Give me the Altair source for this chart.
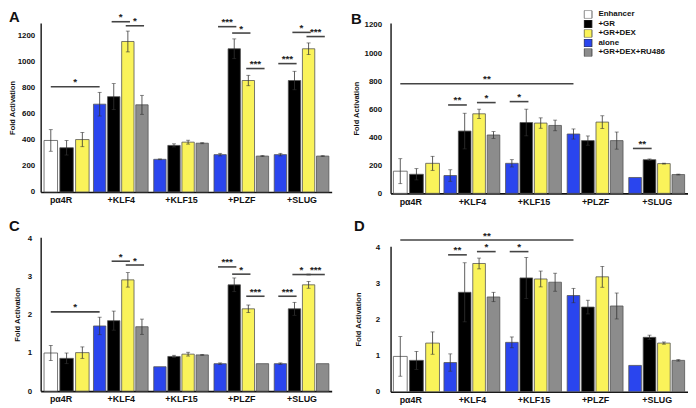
import json
import altair as alt
import pandas as pd

FONT = "Liberation Sans"

# ---------------- data ----------------
GROUPS = ["pα4R", "+KLF4", "+KLF15", "+PLZF", "+SLUG"]
SERIES = ["Enhancer", "+GR", "+GR+DEX", "alone", "+GR+DEX+RU486"]
SERIES_COLORS = ["#FFFFFF", "#000000", "#FAF35A", "#2A45EE", "#8C8C8C"]
FIRST_GROUP_SERIES = ["Enhancer", "+GR", "+GR+DEX"]
OTHER_GROUP_SERIES = ["alone", "+GR", "+GR+DEX", "+GR+DEX+RU486"]

A_VALUES = [[396, 340, 403], [675, 733, 1157, 670], [251, 358, 383, 375],
            [287, 1101, 857, 276], [287, 857, 1101, 276]]
A_ERRORS = [[83, 56, 55], [91, 100, 80, 73], [3, 12, 15, 4],
            [10, 76, 40, 4], [10, 71, 45, 3]]
# (group, bar, group, bar, height, stars)
A_SIGNIF = [(0, 0, 1, 0, 809, "*"), (1, 1, 1, 2, 1309, "*"), (1, 2, 1, 3, 1278, "*"),
            (3, 0, 3, 1, 1271, "***"), (3, 1, 3, 2, 1222, "*"), (3, 2, 3, 3, 949, "***"),
            (4, 0, 4, 1, 987, "***"), (4, 1, 4, 2, 1227, "*"), (4, 2, 4, 3, 1195, "***")]

B_VALUES = [[158, 136, 214], [127, 444, 567, 416], [214, 505, 501, 484],
            [423, 376, 508, 376], [113, 240, 212, 134]]
B_ERRORS = [[89, 40, 50], [41, 127, 33, 24], [26, 95, 37, 38],
            [36, 33, 45, 61], [0, 5, 3, 3]]
B_SIGNIF = [(0, 0, 3, 0, 781, "**"), (1, 0, 1, 1, 630, "**"), (1, 2, 1, 3, 647, "*"),
            (2, 0, 2, 1, 654, "*"), (4, 0, 4, 1, 320, "**")]

C_VALUES = [[1.0, 0.86, 1.01], [1.71, 1.85, 2.92, 1.69], [0.64, 0.91, 0.97, 0.95],
            [0.72, 2.79, 2.16, 0.72], [0.72, 2.16, 2.79, 0.72]]
C_ERRORS = [[0.2, 0.14, 0.15], [0.23, 0.25, 0.19, 0.2], [0.0, 0.03, 0.05, 0.01],
            [0.02, 0.18, 0.1, 0.0], [0.02, 0.17, 0.09, 0.0]]
C_SIGNIF = [(0, 0, 1, 0, 2.08, "*"), (1, 1, 1, 2, 3.41, "*"), (1, 2, 1, 3, 3.31, "*"),
            (3, 0, 3, 1, 3.26, "***"), (3, 1, 3, 2, 3.07, "*"), (3, 2, 3, 3, 2.49, "***"),
            (4, 0, 4, 1, 2.49, "***"), (4, 1, 4, 2, 3.06, "*"), (4, 2, 4, 3, 3.06, "***")]

D_VALUES = [[0.98, 0.87, 1.35], [0.81, 2.76, 3.56, 2.63], [1.37, 3.16, 3.13, 3.04],
            [2.67, 2.35, 3.19, 2.38], [0.73, 1.51, 1.35, 0.87]]
D_ERRORS = [[0.55, 0.25, 0.31], [0.24, 0.82, 0.15, 0.13], [0.15, 0.57, 0.22, 0.25],
            [0.2, 0.19, 0.29, 0.36], [0.0, 0.06, 0.03, 0.02]]
D_SIGNIF = [(0, 0, 3, 0, 4.21, "**"), (1, 0, 1, 1, 3.80, "**"), (1, 2, 1, 3, 3.89, "*"),
            (2, 0, 2, 1, 3.89, "*")]

TICKS_LARGE = [0, 200, 400, 600, 800, 1000, 1200]
TICKS_SMALL = [0, 1, 2, 3, 4]

# ---------------- layout (in group units on the x scale) ----------------
SLOT = 0.234
BAR_W = 0.205
FIRST_SLOT = 0.262
FIRST_BAR_W = 0.224
FIRST_SHIFT = 0.1
SIG_EXT = 0.035


def bar_center(g, s):
    if g == 0:
        return FIRST_SHIFT + (s - 1) * FIRST_SLOT
    return g + (s - 1.5) * SLOT


def build_tables(values, errors, signif):
    bars, errs, caps, sigs = [], [], [], []
    for g, (vals, es) in enumerate(zip(values, errors)):
        names = FIRST_GROUP_SERIES if g == 0 else OTHER_GROUP_SERIES
        half = (FIRST_BAR_W if g == 0 else BAR_W) / 2
        for s, (v, e) in enumerate(zip(vals, es)):
            c = bar_center(g, s)
            bars.append(dict(group=GROUPS[g], series=names[s], x0=c - half, x1=c + half, value=v))
            if e > 0:
                errs.append(dict(xc=c, lo=v - e, hi=v + e))
                caps.append(dict(xc=c, ycap=v + e))
                caps.append(dict(xc=c, ycap=v - e))
    for g1, s1, g2, s2, y, lab in signif:
        ext = SIG_EXT if g1 == g2 else 0.0
        a, b = bar_center(g1, s1) - ext, bar_center(g2, s2) + ext
        sigs.append(dict(x0=a, x1=b, xm=(a + b) / 2, y=y, label=lab))
    return (pd.DataFrame(bars), pd.DataFrame(errs), pd.DataFrame(caps), pd.DataFrame(sigs))


LABEL_EXPR = json.dumps(GROUPS, ensure_ascii=False) + "[round(datum.value)]"


def panel(letter, values, errors, signif, ydom, yticks, width, height, xdom,
          label_pad, title_pad, title_dx, title_dy, legend=None):
    bars, errs, caps, sigs = build_tables(values, errors, signif)
    xs = alt.Scale(domain=xdom, nice=False, zero=False)
    ys = alt.Scale(domain=ydom, nice=False, zero=True)
    xaxis = alt.Axis(values=[0, 1, 2, 3, 4], labelExpr=LABEL_EXPR, title=None, tickSize=0,
                     labelPadding=4, grid=False, domainColor="#111", domainWidth=1.6,
                     labelFontSize=9, labelFontWeight="bold", labelColor="#111",
                     labelFlush=False, labelOverlap=False, labelFont=FONT)
    yaxis = alt.Axis(values=yticks, title="Fold Activation", tickSize=0, grid=False,
                     labelPadding=label_pad, titlePadding=title_pad, domainColor="#111",
                     domainWidth=1.4, labelFontSize=8, labelFontWeight="bold",
                     labelColor="#111", titleFontSize=7.6, titleFontWeight="bold",
                     titleColor="#111", labelFont=FONT, titleFont=FONT, format="d")
    fill = alt.Fill("series:N", scale=alt.Scale(domain=SERIES, range=SERIES_COLORS),
                    legend=legend)
    l_bars = alt.Chart(bars).mark_bar(stroke="#555", strokeWidth=0.8).encode(
        x=alt.X("x0:Q", scale=xs, axis=xaxis), x2="x1:Q",
        y=alt.Y("value:Q", scale=ys, axis=yaxis), y2=alt.datum(0), fill=fill)
    l_err = alt.Chart(errs).mark_rule(color="#333", strokeWidth=0.8).encode(
        x=alt.X("xc:Q", scale=xs, axis=xaxis),
        y=alt.Y("lo:Q", scale=ys, axis=yaxis), y2="hi:Q")
    l_caps = alt.Chart(caps).mark_tick(color="#333", orient="horizontal", size=4,
                                       thickness=0.8).encode(
        x=alt.X("xc:Q", scale=xs, axis=xaxis), y=alt.Y("ycap:Q", scale=ys, axis=yaxis))
    l_sig = alt.Chart(sigs).mark_rule(color="#444", strokeWidth=1.6).encode(
        x=alt.X("x0:Q", scale=xs, axis=xaxis), x2="x1:Q",
        y=alt.Y("y:Q", scale=ys, axis=yaxis))
    l_star = alt.Chart(sigs).mark_text(font=FONT, fontSize=10, fontWeight="bold",
                                       baseline="alphabetic", dy=-1.5, color="#222").encode(
        x=alt.X("xm:Q", scale=xs, axis=xaxis), y=alt.Y("y:Q", scale=ys, axis=yaxis),
        text="label:N")
    return alt.layer(l_bars, l_err, l_caps, l_sig, l_star).properties(
        width=width, height=height,
        title=alt.TitleParams(letter, anchor="start", frame="group", orient="top",
                              fontSize=15, fontWeight="bold", font=FONT, color="#111",
                              dx=title_dx, dy=title_dy, offset=0, baseline="alphabetic"))


legend_b = alt.Legend(title=None, orient="none", legendX=195, legendY=-12.5,
                      symbolType="square", symbolSize=64, symbolStrokeColor="#333",
                      symbolStrokeWidth=0.8, labelFontSize=8, labelFontWeight="bold",
                      labelFont=FONT, labelColor="#111", rowPadding=1.6, labelOffset=6,
                      clipHeight=8, padding=0, values=SERIES)

panel_a = panel("A", A_VALUES, A_ERRORS, A_SIGNIF, [0, 1300], TICKS_LARGE, 294, 170.8,
                [-0.33, 4.5], 6, 1, -32, 25.1)
panel_c = panel("C", C_VALUES, C_ERRORS, C_SIGNIF, [0, 4.04], TICKS_SMALL, 294, 155.5,
                [-0.33, 4.5], 9, 6, -32, 11.5)
panel_b = panel("B", B_VALUES, B_ERRORS, B_SIGNIF, [0, 1215], TICKS_LARGE, 300, 172.2,
                [-0.32, 4.5], 9, 4, -40, 29, legend=legend_b)
panel_d = panel("D", D_VALUES, D_ERRORS, D_SIGNIF, [0, 4.04], TICKS_SMALL, 300, 147,
                [-0.32, 4.5], 11, 13, -37, 15.2)

left = alt.vconcat(panel_a, panel_c, spacing=45.5, bounds="flush").resolve_scale(
    fill="independent").resolve_legend(fill="independent")
right = alt.vconcat(panel_b, panel_d, spacing=52.6, bounds="flush").resolve_scale(
    fill="independent").resolve_legend(fill="independent")

chart = alt.hconcat(left, right, spacing=19.5).resolve_scale(
    fill="independent").resolve_legend(fill="independent").properties(
    padding=0, background="white").configure_view(stroke=None)

chart.save("out.html", embed_options={"renderer": "svg", "actions": False})
